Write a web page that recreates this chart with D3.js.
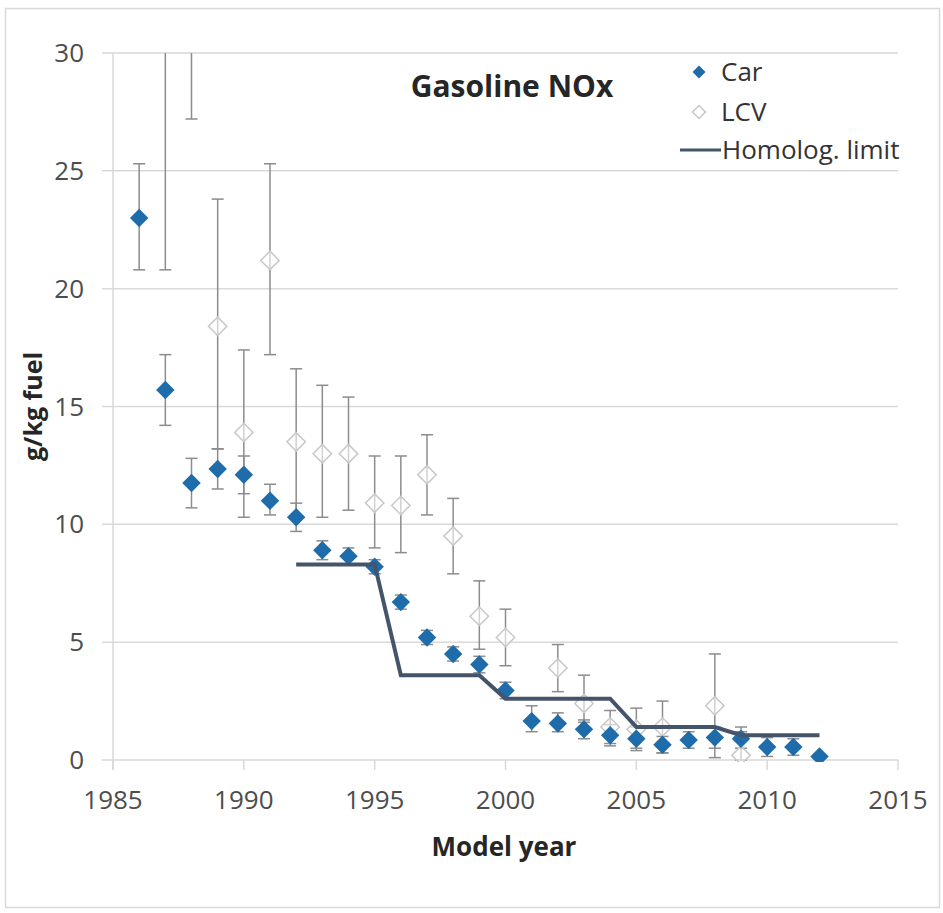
<!DOCTYPE html>
<html>
<head>
<meta charset="utf-8">
<script src="https://cdn.jsdelivr.net/npm/d3@7"></script>
<style>
  html, body { margin: 0; padding: 0; background: #fff; }
  svg { display: block; font-family: "Open Sans", sans-serif; }
</style>
</head>
<body>
<div id="chart"></div>
<script>
// data
const carYears = d3.range(1986, 2013);
const carValues = [23.0, 15.7, 11.75, 12.35, 12.1, 11.0, 10.3, 8.9, 8.65, 8.2, 6.7, 5.2, 4.5, 4.05, 2.95, 1.65, 1.55, 1.3, 1.05, 0.9, 0.65, 0.85, 0.95, 0.9, 0.55, 0.55, 0.15];
const carLow = [20.8, 14.2, 10.7, 11.5, 11.3, 10.4, 9.7, 8.5, 8.3, 7.9, 6.4, 4.9, 4.2, 3.7, 2.6, 1.2, 1.2, 0.9, 0.7, 0.5, 0.3, 0.5, 0.5, 0.5, 0.15, 0.2, 0.05];
const carHigh = [25.3, 17.2, 12.8, 13.2, 12.9, 11.7, 10.9, 9.3, 9.0, 8.5, 7.0, 5.5, 4.8, 4.4, 3.3, 2.3, 2.0, 1.7, 1.5, 1.4, 1.0, 1.2, 1.4, 1.4, 0.95, 0.9, 0.25];

const lcvYears = [1987, 1988, 1989, 1990, 1991, 1992, 1993, 1994, 1995, 1996, 1997, 1998, 1999, 2000, 2002, 2003, 2004, 2005, 2006, 2008, 2009];
const lcvValues = [31.5, 33.5, 18.4, 13.9, 21.2, 13.5, 13.0, 13.0, 10.9, 10.8, 12.1, 9.5, 6.1, 5.2, 3.9, 2.4, 1.4, 1.3, 1.4, 2.3, 0.2];
const lcvLow = [20.8, 27.2, 13.2, 10.3, 17.2, 10.3, 10.3, 10.6, 9.0, 8.8, 10.4, 7.9, 4.7, 4.0, 2.9, 1.6, 0.6, 0.4, 0.3, 0.1, 0.0];
const lcvHigh = [42.2, 39.8, 23.8, 17.4, 25.3, 16.6, 15.9, 15.4, 12.9, 12.9, 13.8, 11.1, 7.6, 6.4, 4.9, 3.6, 2.1, 2.2, 2.5, 4.5, 1.2];

const limitYears = d3.range(1992, 2013);
const limitValues = [8.3, 8.3, 8.3, 8.3, 3.6, 3.6, 3.6, 3.6, 2.6, 2.6, 2.6, 2.6, 2.6, 1.4, 1.4, 1.4, 1.4, 1.05, 1.05, 1.05, 1.05];

const xTicks = [1985, 1990, 1995, 2000, 2005, 2010, 2015];
const yTicks = [0, 5, 10, 15, 20, 25, 30];

const carColor = "#1f6cab";
const lcvStroke = "#c8c8c8";
const limitColor = "#44546a";
const errColor = "#8c8c8c";
const gridColor = "#d9d9d9";

const W = 943, H = 913;
const svg = d3.select("#chart").append("svg")
    .attr("width", W)
    .attr("height", H);

// chart area border
svg.append("rect")
    .attr("x", 5.5).attr("y", 8.5)
    .attr("width", 934).attr("height", 899)
    .attr("fill", "#fff")
    .attr("stroke", gridColor)
    .attr("stroke-width", 1.5);

const x = d3.scaleLinear().domain([1985, 2015]).range([113, 898]);
const y = d3.scaleLinear().domain([0, 30]).range([760, 53]);

// grid lines + y ticks (outside)
svg.append("g").selectAll("line")
    .data(yTicks)
    .join("line")
    .attr("x1", 102).attr("x2", x(2015))
    .attr("y1", d => y(d)).attr("y2", d => y(d))
    .attr("stroke", gridColor)
    .attr("stroke-width", 1.5);

// y axis line
svg.append("line")
    .attr("x1", x(1985)).attr("x2", x(1985))
    .attr("y1", y(30)).attr("y2", y(0) + 10)
    .attr("stroke", gridColor)
    .attr("stroke-width", 1.5);

// x ticks
svg.append("g").selectAll("line")
    .data(xTicks)
    .join("line")
    .attr("x1", d => x(d)).attr("x2", d => x(d))
    .attr("y1", y(0)).attr("y2", y(0) + 10)
    .attr("stroke", gridColor)
    .attr("stroke-width", 1.5);

// tick labels
svg.append("g").selectAll("text")
    .data(yTicks)
    .join("text")
    .attr("x", 84)
    .attr("y", d => y(d))
    .attr("dy", "0.35em")
    .attr("text-anchor", "end")
    .style("font-size", "26px")
    .attr("fill", "#4d4d4d")
    .text(d => d);

svg.append("g").selectAll("text")
    .data(xTicks)
    .join("text")
    .attr("x", d => x(d))
    .attr("y", 800)
    .attr("dy", "0.35em")
    .attr("text-anchor", "middle")
    .style("font-size", "26px")
    .attr("fill", "#4d4d4d")
    .text(d => d);

// axis titles
svg.append("text")
    .attr("x", 504).attr("y", 847)
    .attr("dy", "0.35em")
    .attr("text-anchor", "middle")
    .style("font-size", "26px")
    .style("font-weight", "bold")
    .attr("fill", "#262626")
    .text("Model year");

svg.append("text")
    .attr("transform", `translate(33,${(y(0) + y(30)) / 2}) rotate(-90)`)
    .attr("dy", "0.35em")
    .attr("text-anchor", "middle")
    .style("font-size", "25px")
    .style("font-weight", "bold")
    .attr("fill", "#262626")
    .text("g/kg fuel");

// chart title
svg.append("text")
    .attr("x", 512).attr("y", 86)
    .attr("dy", "0.35em")
    .attr("text-anchor", "middle")
    .style("font-size", "30px")
    .style("font-weight", "bold")
    .attr("fill", "#262626")
    .text("Gasoline NOx");

// plot clip
svg.append("clipPath").attr("id", "plot")
    .append("rect")
    .attr("x", x(1985)).attr("y", y(30))
    .attr("width", x(2015) - x(1985))
    .attr("height", y(0) - y(30) + 2);

const plot = svg.append("g").attr("clip-path", "url(#plot)");

const diamond = d3.symbol().type(d3.symbolSquare);

function errorBars(g, years, low, high) {
    const cap = 6;
    const rows = years.map((yr, i) => ({ yr, lo: low[i], hi: high[i] }));
    const eg = g.append("g")
        .attr("stroke", errColor)
        .attr("stroke-width", 1.5);
    eg.selectAll(".stem").data(rows).join("line")
        .attr("x1", d => x(d.yr)).attr("x2", d => x(d.yr))
        .attr("y1", d => y(d.lo)).attr("y2", d => y(d.hi));
    eg.selectAll(".lo").data(rows).join("line")
        .attr("x1", d => x(d.yr) - cap).attr("x2", d => x(d.yr) + cap)
        .attr("y1", d => y(d.lo)).attr("y2", d => y(d.lo));
    eg.selectAll(".hi").data(rows).join("line")
        .attr("x1", d => x(d.yr) - cap).attr("x2", d => x(d.yr) + cap)
        .attr("y1", d => y(d.hi)).attr("y2", d => y(d.hi));
}

// Car error bars
errorBars(plot, carYears, carLow, carHigh);

// LCV
errorBars(plot, lcvYears, lcvLow, lcvHigh);
plot.append("g").selectAll("path")
    .data(lcvYears.map((yr, i) => ({ yr, v: lcvValues[i] })))
    .join("path")
    .attr("d", diamond.size(170))
    .attr("transform", d => `translate(${x(d.yr)},${y(d.v)}) rotate(45)`)
    .attr("fill", "#fff")
    .attr("fill-opacity", 0.6)
    .attr("stroke", lcvStroke)
    .attr("stroke-width", 1.5);

// Car markers
plot.append("g").selectAll("path")
    .data(carYears.map((yr, i) => ({ yr, v: carValues[i] })))
    .join("path")
    .attr("d", diamond.size(170))
    .attr("transform", d => `translate(${x(d.yr)},${y(d.v)}) rotate(45)`)
    .attr("fill", carColor);

// homologation limit
plot.append("path")
    .datum(limitYears.map((yr, i) => [yr, limitValues[i]]))
    .attr("fill", "none")
    .attr("stroke", limitColor)
    .attr("stroke-width", 4)
    .attr("d", d3.line().x(d => x(d[0])).y(d => y(d[1])));

// legend
const legend = svg.append("g").style("font-size", "26px").attr("fill", "#333");
legend.append("path")
    .attr("d", diamond.size(85))
    .attr("transform", "translate(699,72) rotate(45)")
    .attr("fill", carColor);
legend.append("text").attr("x", 721).attr("y", 72).attr("dy", "0.35em").text("Car");

legend.append("path")
    .attr("d", diamond.size(85))
    .attr("transform", "translate(699,112) rotate(45)")
    .attr("fill", "#fff")
    .attr("stroke", lcvStroke)
    .attr("stroke-width", 1.5);
legend.append("text").attr("x", 721).attr("y", 112).attr("dy", "0.35em").text("LCV");

legend.append("line")
    .attr("x1", 680).attr("x2", 721)
    .attr("y1", 150).attr("y2", 150)
    .attr("stroke", limitColor)
    .attr("stroke-width", 3);
legend.append("text").attr("x", 722).attr("y", 150).attr("dy", "0.35em").text("Homolog. limit");
</script>
</body>
</html>
